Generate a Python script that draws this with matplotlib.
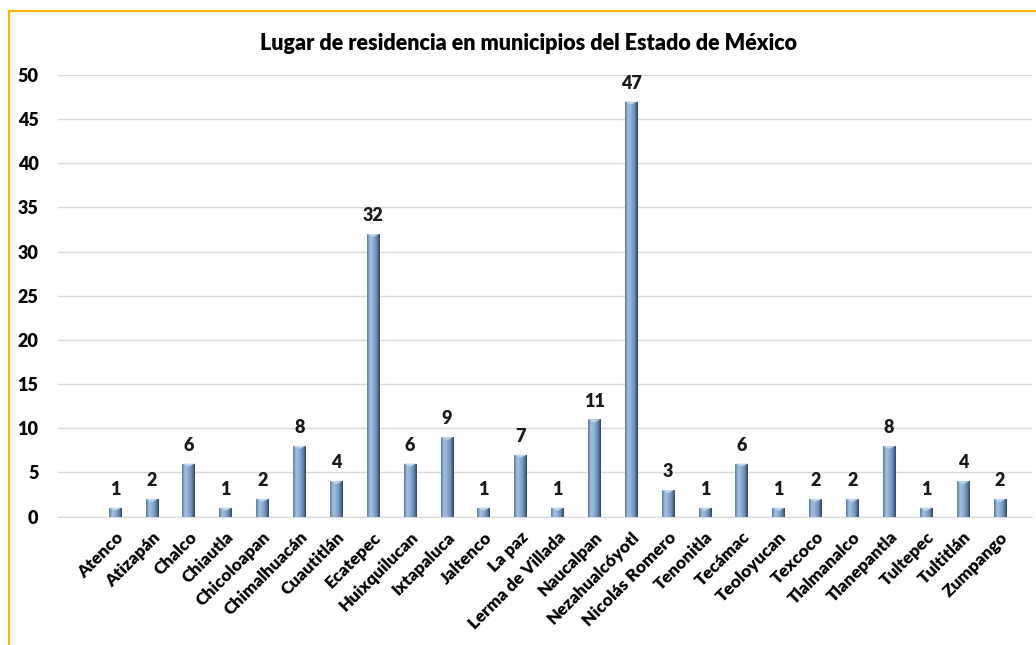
import matplotlib.pyplot as plt
import numpy as np
from matplotlib.colors import LinearSegmentedColormap

# data
municipios = ["Atenco", "Atizapán", "Chalco", "Chiautla", "Chicoloapan", "Chimalhuacán",
              "Cuautitlán", "Ecatepec", "Huixquilucan", "Ixtapaluca", "Jaltenco", "La paz",
              "Lerma de Villada", "Naucalpan", "Nezahualcóyotl", "Nicolás Romero", "Tenonitla",
              "Tecámac", "Teoloyucan", "Texcoco", "Tlalmanalco", "Tlanepantla", "Tultepec",
              "Tultitlán", "Zumpango"]
personas = [1, 2, 6, 1, 2, 8, 4, 32, 6, 9, 1, 7, 1, 11, 47, 3, 1, 6, 1, 2, 2, 8, 1, 4, 2]
y_ticks = [0, 5, 10, 15, 20, 25, 30, 35, 40, 45, 50]
titulo = "Lugar de residencia en municipios del Estado de México"

plt.rcParams['font.family'] = ['Lato', 'DejaVu Sans']
peso = "heavy"

fig = plt.figure(figsize=(10.36, 6.45), dpi=100)
ax = fig.add_axes([0.056, 0.1992, 0.940, 0.6845])

x = np.arange(len(municipios))
ancho = 0.34

# horizontal gradient to fake the bevelled Excel bars
cmap = LinearSegmentedColormap.from_list("bisel", ["#5a7ca3", "#a6c2df", "#8badd2", "#6a8db5", "#2c4562"])
grad = np.linspace(0, 1, 64).reshape(1, -1)

bars = ax.bar(x, personas, width=ancho, color="#7fa3ca", zorder=2)
for b in bars:
    x0, y0 = b.get_x(), b.get_y()
    w, h = b.get_width(), b.get_height()
    im = ax.imshow(grad, cmap=cmap, aspect="auto", extent=[x0, x0 + w, y0, y0 + h], zorder=3)
    im.set_clip_path(b)
    # light bevel on top
    cap = min(0.35, h * 0.5)
    ax.fill([x0, x0 + w, x0 + w / 2], [y0 + h, y0 + h, y0 + h - cap], color="#bfd6ee", zorder=4, lw=0)
    ax.text(x0 + w / 2, y0 + h + 1.1, str(int(h)), ha="center", va="bottom",
            fontsize=13, fontweight=peso, color="#1a1a1a")

ax.set_xlim(-1.546, 24.87)
ax.set_ylim(0, 50)
ax.set_yticks(y_ticks)
ax.set_yticklabels([str(v) for v in y_ticks], fontsize=13, fontweight=peso)
ax.grid(axis="y", color="#d9d9d9", lw=1, zorder=0)
ax.set_axisbelow(True)
ax.tick_params(axis="both", length=0)
ax.tick_params(axis="y", pad=14)
for s in ["top", "right", "left"]:
    ax.spines[s].set_visible(False)
ax.spines["bottom"].set_color("#d9d9d9")

ax.set_xticks(x)
ax.set_xticklabels(municipios, rotation=45, ha="right", rotation_mode="anchor",
                   fontsize=12.5, fontweight=peso)
ax.tick_params(axis="x", pad=9)

fig.text(0.51, 0.933, titulo, ha="center", va="center", fontsize=15.5, fontweight=peso)

# gold frame (top and left edges only visible)
fig.add_artist(plt.Line2D([0.009, 1.0], [0.983, 0.983], color="#f5b800", lw=1.6, transform=fig.transFigure))
fig.add_artist(plt.Line2D([0.009, 0.009], [0.0, 0.983], color="#f5b800", lw=1.6, transform=fig.transFigure))

fig.savefig("out.png", dpi=100)
